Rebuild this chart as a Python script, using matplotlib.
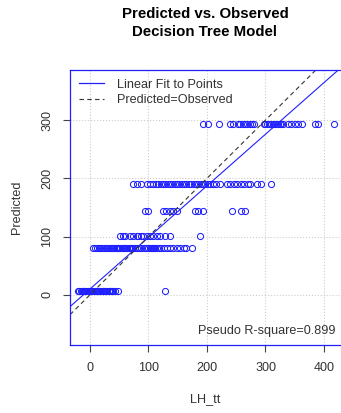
import numpy as np
import matplotlib
matplotlib.use("Agg")
import matplotlib.pyplot as plt
from matplotlib.lines import Line2D

plt.rcParams['font.family'] = ['Liberation Sans', 'DejaVu Sans']

# observed LH_tt values, grouped by the predicted level of the tree
pred_levels = [6, 80, 101, 144, 190, 293]
obs_6 = [-20, -18, -16, -14, -12, -10, -8, -6, -4, -2, 0, 2, 4, 6, 8, 10, 12, 14,
         16, 18, 20, 22, 24, 26, 28, 30, 32, 34, 36, 38, 40, 43, 48, 128]
obs_80 = [6, 9, 12, 15, 18, 21, 24, 27, 30, 33, 36, 38, 40, 42, 44, 46, 48, 50, 52,
          54, 56, 58, 60, 62, 64, 66, 68, 70, 72, 74, 77, 80, 84, 88, 92, 96, 100,
          102, 104, 106, 108, 110, 112, 114, 118, 122, 127, 131, 137, 142, 148, 154,
          160, 165, 174]
obs_101 = [51, 56, 60, 68, 74, 80, 83, 88, 91, 97, 103, 108, 114, 120, 128, 136, 188]
obs_144 = [94, 100, 125, 130, 137, 142, 148, 179, 185, 194, 242, 259, 265]
obs_190 = [74, 81, 88, 97, 102, 108, 113, 117, 121, 125, 129, 133, 137, 141, 145,
           149, 153, 157, 161, 165, 169, 173, 177, 181, 185, 189, 193, 197, 201, 205,
           210, 216, 222, 234, 240, 246, 252, 258, 264, 270, 274, 285, 293, 310]
obs_293 = [194, 202, 221, 239, 245, 253, 257, 261, 265, 269, 273, 277, 280, 297, 300,
           303, 306, 309, 312, 315, 318, 321, 324, 327, 330, 338, 344, 350, 356, 362,
           385, 390, 417]
obs_groups = [obs_6, obs_80, obs_101, obs_144, obs_190, obs_293]

fit_slope = 0.886
fit_intercept = 10.0
r_square = 0.899

x_ticks = [0, 100, 200, 300, 400]
y_ticks = [0, 100, 200, 300]

blue = '#2020ff'
fig = plt.figure(figsize=(3.41, 4.13), dpi=100)
ax = fig.add_axes([70/341, 1 - 345/413, 271/341, 275/413])

for level, obs in zip(pred_levels, obs_groups):
    ax.plot(obs, [level]*len(obs), linestyle='none', marker='o', markersize=4.4,
            markerfacecolor='none', markeredgecolor=blue, markeredgewidth=0.75)

ax.axline((0, fit_intercept), slope=fit_slope, color=blue, lw=0.8)
ax.axline((0, 0), slope=1, color='#333333', lw=0.8, linestyle=(0, (4, 3)))

ax.set_xlim(-34, 429)
ax.set_ylim(-86, 386)
ax.set_xticks(x_ticks)
ax.set_yticks(y_ticks)
ax.grid(True, color='#cccccc', linestyle=':', linewidth=0.8)
ax.set_axisbelow(True)

for side in ['left', 'bottom', 'top']:
    ax.spines[side].set_color(blue)
    ax.spines[side].set_linewidth(0.9)
ax.spines['right'].set_visible(False)

ax.tick_params(direction='out', length=5, width=0.8, color='#444444',
               labelsize=9.1, labelcolor='#333333', pad=7)
for lab in ax.get_yticklabels():
    lab.set_rotation(90)
    lab.set_va('center')

ax.set_xlabel("LH_tt", fontsize=9.1, color='#333333', labelpad=14)
ax.set_ylabel("Predicted", fontsize=9.1, color='#333333', labelpad=13)

handles = [Line2D([], [], color=blue, lw=0.9),
           Line2D([], [], color='#333333', lw=0.8, linestyle=(0, (4, 3)))]
ax.legend(handles, ["Linear Fit to Points", "Predicted=Observed"],
          loc='upper left', frameon=False, fontsize=9.1, handlelength=2.0,
          handletextpad=1.0, borderaxespad=0.3, labelspacing=0.25,
          labelcolor='#333333')

ax.text(0.978, 0.03, "Pseudo R-square=%.3f" % r_square, transform=ax.transAxes,
        ha='right', va='bottom', fontsize=9.1, color='#333333')

fig.suptitle("Predicted vs. Observed\nDecision Tree Model", x=205/341, y=0.982,
             fontsize=10.8, fontweight='bold', linespacing=1.35)

fig.savefig("out.png", dpi=100)
